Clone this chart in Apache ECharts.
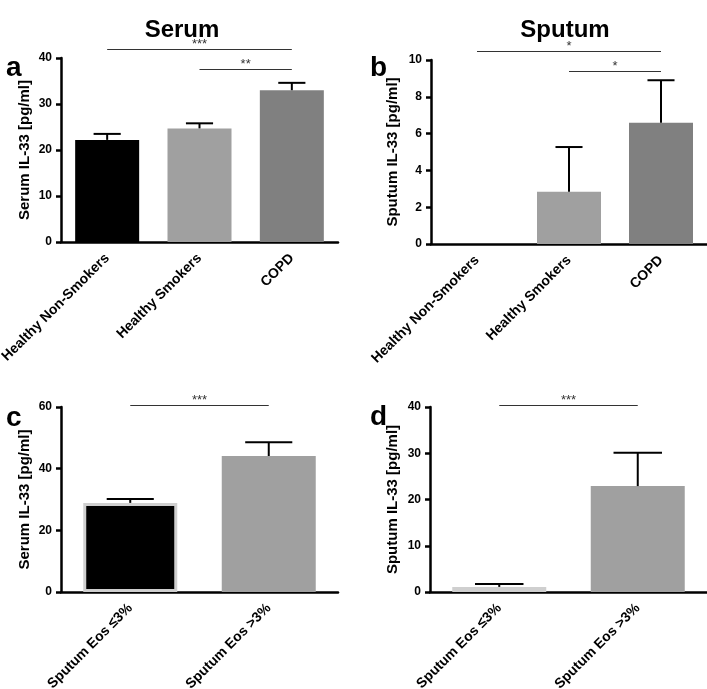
<!DOCTYPE html>
<html>
<head>
<meta charset="utf-8">
<script src="https://cdn.jsdelivr.net/npm/echarts@6/dist/echarts.min.js"></script>
<style>
html,body{margin:0;padding:0;background:#fff;}
#chart{width:707px;height:689px;}
</style>
</head>
<body>
<div id="chart"></div>
<script>
// ---- data ----
var groupCats = ['Healthy Non-Smokers', 'Healthy Smokers', 'COPD'];
var serumMean = [22.2, 24.7, 33.0];
var serumSem = [1.3, 1.1, 1.6];
var sputumMean = [0, 2.84, 6.59];
var sputumSem = [0, 2.43, 2.31];

var eosCats = ['Sputum Eos \u22643%', 'Sputum Eos >3%'];
var eosSerumMean = [28.9, 44.1];
var eosSerumSem = [1.3, 4.5];
var eosSputumMean = [1.1, 22.9];
var eosSputumSem = [0.65, 7.2];

var yTicksA = [0, 10, 20, 30, 40];
var yTicksB = [0, 2, 4, 6, 8, 10];
var yTicksC = [0, 20, 40, 60];
var yTicksD = [0, 10, 20, 30, 40];

// significance brackets: [fromIndex, toIndex, yValue, label]
var sigA = [[0, 2, 42, '***'], [1, 2, 37.6, '**']];
var sigB = [[-0.05, 2, 10.49, '*'], [0.95, 2, 9.42, '*']];
var sigC = [[0, 1, 60.5, '***']];
var sigD = [[0, 1, 40.5, '***']];

var barColors3 = ['#000000', '#a0a0a0', '#808080'];
var barColors2 = ['#000000', '#a0a0a0'];

var FONT = '"Liberation Sans", Arial, Helvetica, sans-serif';

function xAxisCfg(gi, cats) {
  return {
    type: 'category', gridIndex: gi, data: cats,
    axisLine: {lineStyle: {color: '#000', width: 2.5}},
    axisTick: {alignWithLabel: true, length: 6, lineStyle: {color: '#000', width: 2.5}},
    axisLabel: {interval: 0, rotate: 45, margin: 14, color: '#000', fontSize: 14, fontWeight: 'bold', fontFamily: FONT},
    splitLine: {show: false}
  };
}
function yAxisCfg(gi, ticks, name, gap) {
  return {
    type: 'value', gridIndex: gi, min: ticks[0], max: ticks[ticks.length - 1],
    interval: ticks[1] - ticks[0],
    name: name, nameLocation: 'middle', nameGap: gap,
    nameTextStyle: {color: '#000', fontSize: 15, fontWeight: 'bold', fontFamily: FONT},
    axisLine: {show: true, lineStyle: {color: '#000', width: 2.5}},
    axisTick: {show: true, length: 5, lineStyle: {color: '#000', width: 2.5}},
    axisLabel: {margin: 9, color: '#000', fontSize: 12, fontWeight: 'bold', fontFamily: FONT},
    splitLine: {show: false}
  };
}
function barSeries(gi, means, colors, width, borderFirst) {
  return {
    type: 'bar', xAxisIndex: gi, yAxisIndex: gi, barWidth: width,
    data: means.map(function (v, i) {
      var st = {color: colors[i]};
      if (borderFirst && i === 0) { st.borderColor = '#cfcfcf'; st.borderWidth = 3; }
      return {value: v, itemStyle: st};
    }),
    silent: true
  };
}
function errSeries(gi, means, sems, capFrac) {
  return {
    type: 'custom', xAxisIndex: gi, yAxisIndex: gi, silent: true, z: 5,
    data: means.map(function (m, i) { return [i, m, m + sems[i]]; }),
    renderItem: function (params, api) {
      var x = api.value(0), m = api.value(1), u = api.value(2);
      if (u - m <= 0) return null;
      var p0 = api.coord([x, m]), p1 = api.coord([x, u]);
      var hw = api.size([1, 0])[0] * capFrac;
      var st = {stroke: '#000', lineWidth: 2};
      return {type: 'group', children: [
        {type: 'line', shape: {x1: p0[0], y1: p0[1], x2: p1[0], y2: p1[1]}, style: st},
        {type: 'line', shape: {x1: p1[0] - hw, y1: p1[1], x2: p1[0] + hw, y2: p1[1]}, style: st}
      ]};
    }
  };
}
function sigSeries(gi, sig) {
  return {
    type: 'custom', xAxisIndex: gi, yAxisIndex: gi, silent: true, clip: false, z: 6,
    data: sig.map(function (s) { return [s[0], s[1], s[2]]; }),
    renderItem: function (params, api) {
      var s = sig[params.dataIndex];
      var a = api.coord([s[0], s[2]]), b = api.coord([s[1], s[2]]);
      var y = Math.round(a[1]) + 0.5;
      return {type: 'group', children: [
        {type: 'line', shape: {x1: a[0], y1: y, x2: b[0], y2: y}, style: {stroke: '#333', lineWidth: 1}},
        {type: 'text', x: (a[0] + b[0]) / 2, y: y - 5,
          style: {text: s[3], fill: '#333', fontSize: 13, fontFamily: FONT, align: 'center', verticalAlign: 'middle'}}
      ]};
    }
  };
}

var chart = echarts.init(document.getElementById('chart'), null, {renderer: 'canvas'});
chart.setOption({
  animation: false,
  backgroundColor: '#fff',
  grid: [
    {left: 61, top: 58, width: 277, height: 184, outerBoundsMode: 'none'},
    {left: 431, top: 60, width: 276, height: 184, outerBoundsMode: 'none'},
    {left: 61, top: 407, width: 277, height: 185, outerBoundsMode: 'none'},
    {left: 430, top: 407, width: 277, height: 185, outerBoundsMode: 'none'}
  ],
  xAxis: [xAxisCfg(0, groupCats), xAxisCfg(1, groupCats), xAxisCfg(2, eosCats), xAxisCfg(3, eosCats)],
  yAxis: [
    yAxisCfg(0, yTicksA, 'Serum IL-33 [pg/ml]', 29),
    yAxisCfg(1, yTicksB, 'Sputum IL-33 [pg/ml]', 31),
    yAxisCfg(2, yTicksC, 'Serum IL-33 [pg/ml]', 29),
    yAxisCfg(3, yTicksD, 'Sputum IL-33 [pg/ml]', 30)
  ],
  series: [
    barSeries(0, serumMean, barColors3, 64, false),
    barSeries(1, sputumMean, barColors3, 64, false),
    barSeries(2, eosSerumMean, barColors2, 94, true),
    barSeries(3, eosSputumMean, barColors2, 94, true),
    errSeries(0, serumMean, serumSem, 0.147),
    errSeries(1, sputumMean, sputumSem, 0.147),
    errSeries(2, eosSerumMean, eosSerumSem, 0.17),
    errSeries(3, eosSputumMean, eosSputumSem, 0.175),
    sigSeries(0, sigA),
    sigSeries(1, sigB),
    sigSeries(2, sigC),
    sigSeries(3, sigD)
  ],
  graphic: [
    {type: 'text', style: {text: 'Serum', x: 182, y: 18, align: 'center', verticalAlign: 'alphabetic', fontSize: 24, fontWeight: 'bold', fontFamily: FONT, fill: '#000'}},
    {type: 'text', style: {text: 'Sputum', x: 565, y: 18, align: 'center', verticalAlign: 'alphabetic', fontSize: 24, fontWeight: 'bold', fontFamily: FONT, fill: '#000'}},
    {type: 'text', style: {text: 'a', x: 6, y: 54, verticalAlign: 'alphabetic', fontSize: 28, fontWeight: 'bold', fontFamily: FONT, fill: '#000'}},
    {type: 'text', style: {text: 'b', x: 370, y: 54, verticalAlign: 'alphabetic', fontSize: 28, fontWeight: 'bold', fontFamily: FONT, fill: '#000'}},
    {type: 'text', style: {text: 'c', x: 6, y: 404, verticalAlign: 'alphabetic', fontSize: 28, fontWeight: 'bold', fontFamily: FONT, fill: '#000'}},
    {type: 'text', style: {text: 'd', x: 370, y: 403, verticalAlign: 'alphabetic', fontSize: 28, fontWeight: 'bold', fontFamily: FONT, fill: '#000'}}
  ]
});
</script>
</body>
</html>
